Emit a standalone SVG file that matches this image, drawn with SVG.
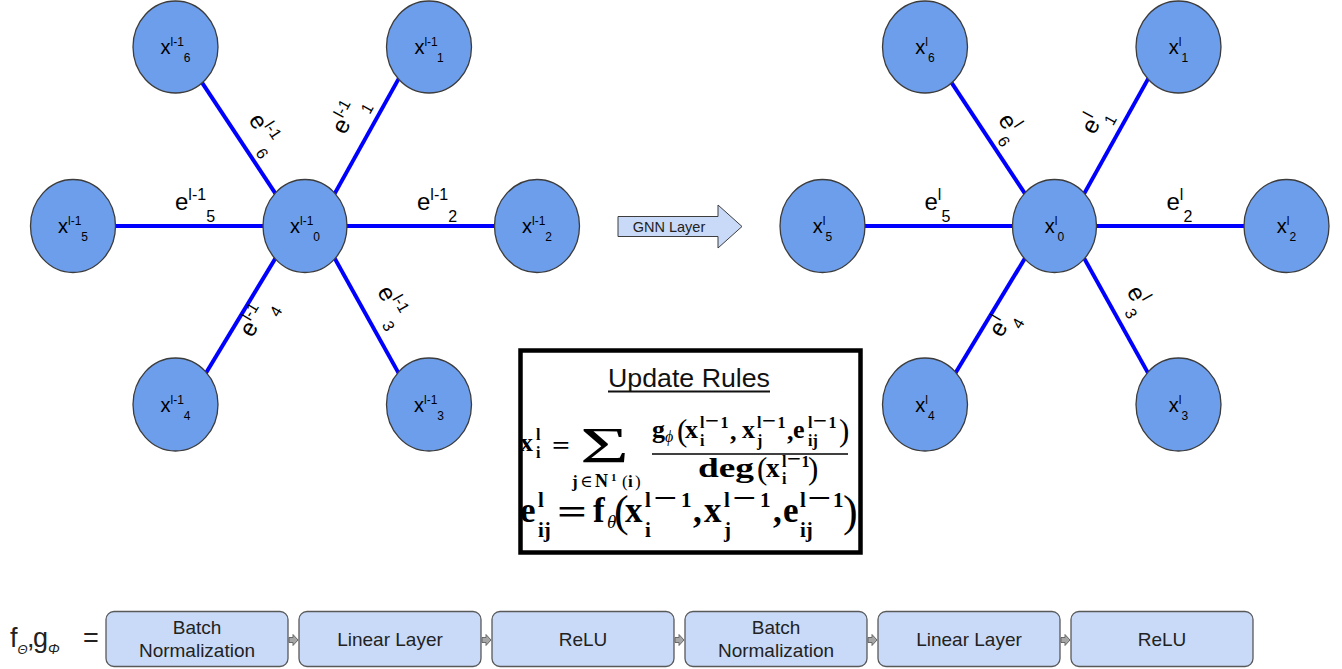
<svg xmlns="http://www.w3.org/2000/svg" width="1342" height="669" viewBox="0 0 1342 669">
<style>
.node ellipse{fill:#6d9eeb;stroke:#3c3c3c;stroke-width:1.3}
.edge{stroke:#0000ff;stroke-width:4;fill:none}
.nl{font-family:"Liberation Sans",Arial,sans-serif;font-size:20px;fill:#000;text-anchor:middle}
.el{font-family:"Liberation Sans",Arial,sans-serif;font-size:24px;fill:#000}
.s12{font-size:12px}
.s16{font-size:16px}
.m{font-family:"Liberation Serif","DejaVu Serif",serif;font-weight:bold;fill:#000}
.n{font-weight:normal}
.gi{font-family:"Liberation Serif","DejaVu Serif",serif;font-style:italic;fill:#000}
.box{fill:#c9daf8;stroke:#595959;stroke-width:1.3}
.bt{font-family:"Liberation Sans",Arial,sans-serif;font-size:19px;fill:#222;text-anchor:middle}
.sa{fill:#a6a6a6;stroke:#5f5f5f;stroke-width:0.9}
.bl{font-family:"Liberation Sans",Arial,sans-serif;fill:#222}
</style>
<defs>
<path id="sarrow" d="M0,-2.5 H4 V-5.5 L9,0 L4,5.5 V2.5 H0 Z"/>
</defs>

<g id="connectors">
  <g id="edges-left">
    <line class="edge" x1="200.2" y1="79.8" x2="277.8" y2="197.2"/>
    <line class="edge" x1="400.4" y1="75.6" x2="332.6" y2="197.4"/>
    <line class="edge" x1="110" y1="226" x2="268" y2="226"/>
    <line class="edge" x1="342" y1="226" x2="500" y2="226"/>
    <line class="edge" x1="277.6" y1="254.7" x2="203.4" y2="377.3"/>
    <line class="edge" x1="332.6" y1="254.6" x2="400.4" y2="376.4"/>
  </g>
  <g id="edges-right" transform="translate(749.5,0)">
    <line class="edge" x1="200.2" y1="79.8" x2="277.8" y2="197.2"/>
    <line class="edge" x1="400.4" y1="75.6" x2="332.6" y2="197.4"/>
    <line class="edge" x1="110" y1="226" x2="268" y2="226"/>
    <line class="edge" x1="342" y1="226" x2="500" y2="226"/>
    <line class="edge" x1="277.6" y1="254.7" x2="203.4" y2="377.3"/>
    <line class="edge" x1="332.6" y1="254.6" x2="400.4" y2="376.4"/>
  </g>
  <g id="edge-labels-left">
    <text class="el" x="175" y="210">e<tspan class="s16" dy="-10">l-1</tspan><tspan class="s16" dy="22">5</tspan></text>
    <text class="el" x="417" y="210">e<tspan class="s16" dy="-10">l-1</tspan><tspan class="s16" dy="22">2</tspan></text>
    <text class="el" transform="translate(248,120) rotate(57)">e<tspan class="s16" dy="-10">l-1</tspan><tspan class="s16" dy="22">6</tspan></text>
    <text class="el" transform="translate(344.7,135.4) rotate(-61)">e<tspan class="s16" dy="-10">l-1</tspan><tspan class="s16" dy="22">1</tspan></text>
    <text class="el" transform="translate(251.9,338.4) rotate(-59)">e<tspan class="s16" dy="-10">l-1</tspan><tspan class="s16" dy="22">4</tspan></text>
    <text class="el" transform="translate(376.8,291.6) rotate(61)">e<tspan class="s16" dy="-10">l-1</tspan><tspan class="s16" dy="22">3</tspan></text>
  </g>
  <g id="edge-labels-right" transform="translate(749.5,0)">
    <text class="el" x="175" y="210">e<tspan class="s16" dy="-10">l</tspan><tspan class="s16" dy="22">5</tspan></text>
    <text class="el" x="417" y="210">e<tspan class="s16" dy="-10">l</tspan><tspan class="s16" dy="22">2</tspan></text>
    <text class="el" transform="translate(248,120) rotate(57)">e<tspan class="s16" dy="-10">l</tspan><tspan class="s16" dy="22">6</tspan></text>
    <text class="el" transform="translate(344.7,135.4) rotate(-61)">e<tspan class="s16" dy="-10">l</tspan><tspan class="s16" dy="22">1</tspan></text>
    <text class="el" transform="translate(251.9,338.4) rotate(-59)">e<tspan class="s16" dy="-10">l</tspan><tspan class="s16" dy="22">4</tspan></text>
    <text class="el" transform="translate(376.8,291.6) rotate(61)">e<tspan class="s16" dy="-10">l</tspan><tspan class="s16" dy="22">3</tspan></text>
  </g>
</g>

<g id="left-graph">
  <g id="L6" class="node"><ellipse cx="175.5" cy="47" rx="42.5" ry="46"/><text class="nl" x="175.5" y="54">x<tspan class="s12" dy="-8">l-1</tspan><tspan class="s12" dy="16">6</tspan></text></g>
  <g id="L1" class="node"><ellipse cx="429" cy="47" rx="42.5" ry="46"/><text class="nl" x="429" y="54">x<tspan class="s12" dy="-8">l-1</tspan><tspan class="s12" dy="16">1</tspan></text></g>
  <g id="L5" class="node"><ellipse cx="73" cy="226" rx="42.5" ry="46.5"/><text class="nl" x="73" y="233">x<tspan class="s12" dy="-8">l-1</tspan><tspan class="s12" dy="16">5</tspan></text></g>
  <g id="L0" class="node"><ellipse cx="305" cy="226" rx="42" ry="46.5"/><text class="nl" x="305" y="233">x<tspan class="s12" dy="-8">l-1</tspan><tspan class="s12" dy="16">0</tspan></text></g>
  <g id="L2" class="node"><ellipse cx="537" cy="226" rx="42.5" ry="46.5"/><text class="nl" x="537" y="233">x<tspan class="s12" dy="-8">l-1</tspan><tspan class="s12" dy="16">2</tspan></text></g>
  <g id="L4" class="node"><ellipse cx="175.5" cy="404.5" rx="42.5" ry="46.5"/><text class="nl" x="175.5" y="412">x<tspan class="s12" dy="-8">l-1</tspan><tspan class="s12" dy="16">4</tspan></text></g>
  <g id="L3" class="node"><ellipse cx="429" cy="404.5" rx="42.5" ry="46.5"/><text class="nl" x="429" y="412">x<tspan class="s12" dy="-8">l-1</tspan><tspan class="s12" dy="16">3</tspan></text></g>
</g>

<g id="right-graph" transform="translate(749.5,0)">
  <g id="R6" class="node"><ellipse cx="175.5" cy="47" rx="42.5" ry="46"/><text class="nl" x="175.5" y="54">x<tspan class="s12" dy="-8">l</tspan><tspan class="s12" dy="16">6</tspan></text></g>
  <g id="R1" class="node"><ellipse cx="429" cy="47" rx="42.5" ry="46"/><text class="nl" x="429" y="54">x<tspan class="s12" dy="-8">l</tspan><tspan class="s12" dy="16">1</tspan></text></g>
  <g id="R5" class="node"><ellipse cx="73" cy="226" rx="42.5" ry="46.5"/><text class="nl" x="73" y="233">x<tspan class="s12" dy="-8">l</tspan><tspan class="s12" dy="16">5</tspan></text></g>
  <g id="R0" class="node"><ellipse cx="305" cy="226" rx="42" ry="46.5"/><text class="nl" x="305" y="233">x<tspan class="s12" dy="-8">l</tspan><tspan class="s12" dy="16">0</tspan></text></g>
  <g id="R2" class="node"><ellipse cx="537" cy="226" rx="42.5" ry="46.5"/><text class="nl" x="537" y="233">x<tspan class="s12" dy="-8">l</tspan><tspan class="s12" dy="16">2</tspan></text></g>
  <g id="R4" class="node"><ellipse cx="175.5" cy="404.5" rx="42.5" ry="46.5"/><text class="nl" x="175.5" y="412">x<tspan class="s12" dy="-8">l</tspan><tspan class="s12" dy="16">4</tspan></text></g>
  <g id="R3" class="node"><ellipse cx="429" cy="404.5" rx="42.5" ry="46.5"/><text class="nl" x="429" y="412">x<tspan class="s12" dy="-8">l</tspan><tspan class="s12" dy="16">3</tspan></text></g>
</g>

<g id="gnn-layer">
  <polygon points="618,216.5 718,216.5 718,205 742,226.5 718,248 718,236.5 618,236.5" fill="#c9daf8" stroke="#3d3d3d" stroke-width="1"/>
  <text x="669" y="231.5" font-family="Liberation Sans, Arial, sans-serif" font-size="14.5" fill="#222" text-anchor="middle">GNN Layer</text>
</g>

<g id="update-rules">
  <rect x="520.5" y="350.5" width="340" height="202" fill="#fff" stroke="#000" stroke-width="4.5"/>
  <text x="689" y="387" font-family="Liberation Sans, Arial, sans-serif" font-size="26" fill="#111" text-anchor="middle" textLength="162" lengthAdjust="spacingAndGlyphs">Update Rules</text>
  <line x1="608" y1="391.5" x2="770" y2="391.5" stroke="#111" stroke-width="2"/>
  <g id="formula-x">
    <text class="m" x="520" y="451" font-size="26">x</text>
    <text class="m" x="536" y="440" font-size="16">l</text>
    <text class="m" x="536" y="458" font-size="16">i</text>
    <text class="m" x="552" y="453.5" font-size="26" textLength="18" lengthAdjust="spacingAndGlyphs">=</text>
    <text class="m n" x="580" y="462" font-size="50" textLength="49" lengthAdjust="spacingAndGlyphs">Σ</text>
    <text class="m" x="572" y="487" font-size="17">j</text>
    <text class="m n" x="580" y="487" font-size="17">∈</text>
    <text class="m" x="595" y="487" font-size="18">N</text>
    <text class="m" x="611" y="481" font-size="11">1</text>
    <text class="m n" x="622" y="487" font-size="17">(</text>
    <text class="m" x="628" y="487" font-size="17">i</text>
    <text class="m n" x="635" y="487" font-size="17">)</text>
    <text class="m" x="652" y="438" font-size="26">g</text>
    <text class="gi" x="665" y="442" font-size="16">ϕ</text>
    <text class="m n" x="677" y="441" font-size="31">(</text>
    <text class="m" x="685" y="438" font-size="26">x</text>
    <text class="m" x="700" y="428" font-size="16">l</text>
    <text class="m" x="705" y="427.5" font-size="22" textLength="14" lengthAdjust="spacingAndGlyphs">−</text>
    <text class="m" x="720.5" y="428" font-size="16">1</text>
    <text class="m" x="700" y="446" font-size="16">i</text>
    <text class="m" x="730" y="440" font-size="26">,</text>
    <text class="m" x="742" y="438" font-size="26">x</text>
    <text class="m" x="757" y="428" font-size="16">l</text>
    <text class="m" x="762" y="427.5" font-size="22" textLength="14" lengthAdjust="spacingAndGlyphs">−</text>
    <text class="m" x="777.5" y="428" font-size="16">1</text>
    <text class="m" x="757" y="446" font-size="16">j</text>
    <text class="m" x="787" y="440" font-size="26">,</text>
    <text class="m" x="793" y="438" font-size="26">e</text>
    <text class="m" x="808" y="428" font-size="16">l</text>
    <text class="m" x="813" y="427.5" font-size="22" textLength="14" lengthAdjust="spacingAndGlyphs">−</text>
    <text class="m" x="828.5" y="428" font-size="16">1</text>
    <text class="m" x="808" y="446" font-size="16">ij</text>
    <text class="m n" x="839" y="441" font-size="31">)</text>
    <line x1="652" y1="454" x2="848" y2="454" stroke="#000" stroke-width="1.4"/>
    <text class="m" x="698" y="477" font-size="28" textLength="56" lengthAdjust="spacingAndGlyphs">deg</text>
    <text class="m n" x="757" y="479" font-size="31">(</text>
    <text class="m" x="766" y="477" font-size="27">x</text>
    <text class="m" x="782" y="466.5" font-size="16">l</text>
    <text class="m" x="787" y="466" font-size="22" textLength="14" lengthAdjust="spacingAndGlyphs">−</text>
    <text class="m" x="801.5" y="466.5" font-size="16">1</text>
    <text class="m" x="782" y="484" font-size="16">i</text>
    <text class="m n" x="808" y="479" font-size="31">)</text>
  </g>
  <g id="formula-e">
    <text class="m" x="520" y="522" font-size="35">e</text>
    <text class="m" x="538" y="507" font-size="21">l</text>
    <text class="m" x="538" y="537" font-size="21">ij</text>
    <text class="m" x="557" y="524" font-size="35" textLength="30" lengthAdjust="spacingAndGlyphs">=</text>
    <text class="m" x="593" y="522" font-size="35">f</text>
    <text class="gi" x="607" y="528" font-size="19">θ</text>
    <text class="m n" x="614" y="526" font-size="44">(</text>
    <text class="m" x="625" y="522" font-size="35">x</text>
    <text class="m" x="645" y="507" font-size="21">l</text>
    <text class="m" x="653" y="507.5" font-size="30" textLength="24" lengthAdjust="spacingAndGlyphs">−</text>
    <text class="m" x="681" y="507" font-size="21">1</text>
    <text class="m" x="645" y="537" font-size="21">i</text>
    <text class="m" x="693" y="522" font-size="35">,</text>
    <text class="m" x="704" y="522" font-size="35">x</text>
    <text class="m" x="724" y="507" font-size="21">l</text>
    <text class="m" x="732" y="507.5" font-size="30" textLength="24" lengthAdjust="spacingAndGlyphs">−</text>
    <text class="m" x="760" y="507" font-size="21">1</text>
    <text class="m" x="724" y="537" font-size="21">j</text>
    <text class="m" x="773" y="522" font-size="35">,</text>
    <text class="m" x="783" y="522" font-size="35">e</text>
    <text class="m" x="800" y="507" font-size="21">l</text>
    <text class="m" x="807" y="507.5" font-size="30" textLength="24" lengthAdjust="spacingAndGlyphs">−</text>
    <text class="m" x="833" y="507" font-size="21">1</text>
    <text class="m" x="800" y="537" font-size="21">ij</text>
    <text class="m n" x="843" y="526" font-size="44">)</text>
  </g>
</g>

<g id="function-def">
  <text class="bl" x="10" y="647" font-size="27">f</text>
  <text class="bl" x="17.5" y="654" font-size="13" font-style="italic">Θ</text>
  <text class="bl" x="27" y="647" font-size="27">,</text>
  <text class="bl" x="33" y="647" font-size="27">g</text>
  <text class="bl" x="48" y="654" font-size="14" font-style="italic">Φ</text>
  <text class="bl" x="83" y="647" font-size="27">=</text>
</g>

<g id="pipeline">
  <g id="b1"><rect class="box" x="106" y="611.5" width="182" height="55" rx="8"/><text class="bt" x="197" y="634">Batch</text><text class="bt" x="197" y="657">Normalization</text></g>
  <g id="b2"><rect class="box" x="299" y="611.5" width="182" height="55" rx="8"/><text class="bt" x="390" y="646">Linear Layer</text></g>
  <g id="b3"><rect class="box" x="492" y="611.5" width="182" height="55" rx="8"/><text class="bt" x="583" y="646">ReLU</text></g>
  <g id="b4"><rect class="box" x="685" y="611.5" width="182" height="55" rx="8"/><text class="bt" x="776" y="634">Batch</text><text class="bt" x="776" y="657">Normalization</text></g>
  <g id="b5"><rect class="box" x="878" y="611.5" width="182" height="55" rx="8"/><text class="bt" x="969" y="646">Linear Layer</text></g>
  <g id="b6"><rect class="box" x="1071" y="611.5" width="182" height="55" rx="8"/><text class="bt" x="1162" y="646">ReLU</text></g>
  <g id="pipeline-arrows">
    <use href="#sarrow" class="sa" x="289" y="640"/>
    <use href="#sarrow" class="sa" x="482" y="640"/>
    <use href="#sarrow" class="sa" x="675" y="640"/>
    <use href="#sarrow" class="sa" x="868" y="640"/>
    <use href="#sarrow" class="sa" x="1061" y="640"/>
  </g>
</g>
</svg>
